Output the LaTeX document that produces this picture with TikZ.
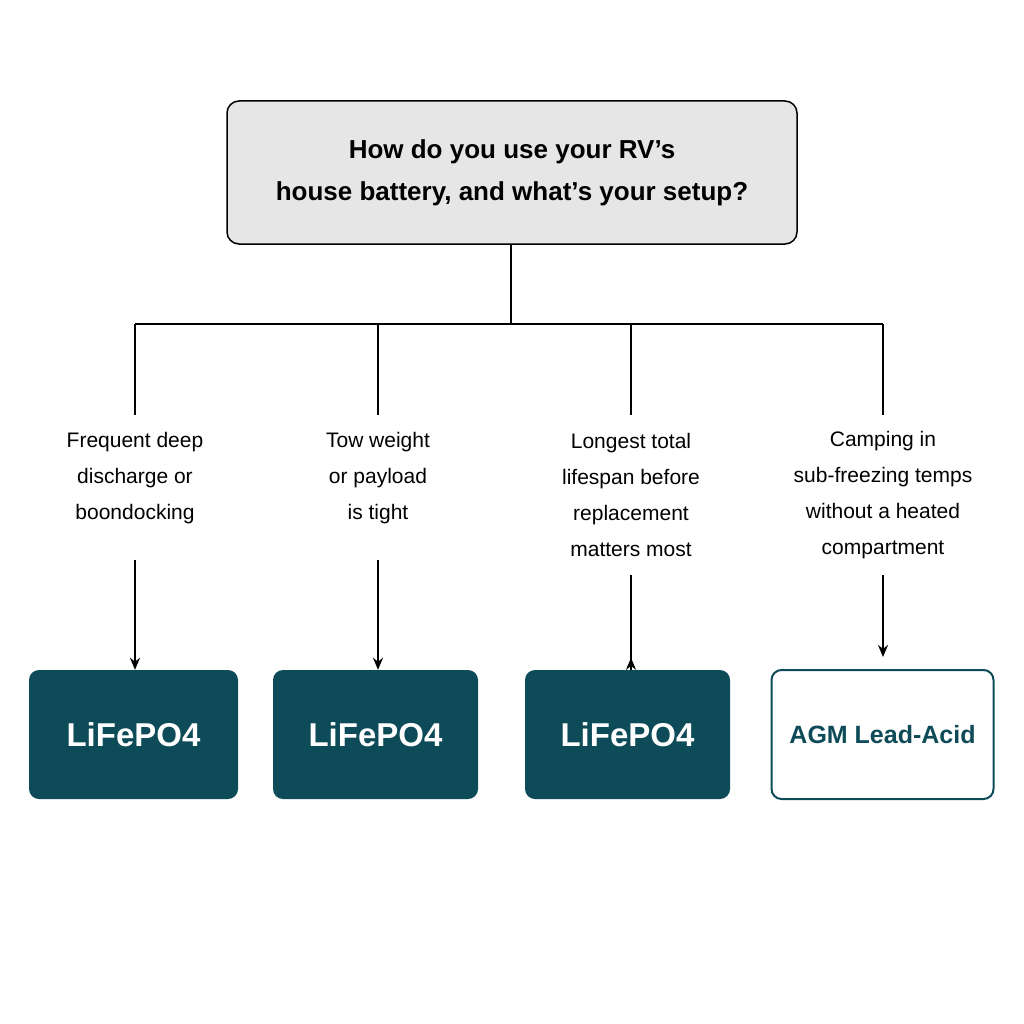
\documentclass[tikz,border=0pt]{standalone}
\usepackage{fontspec}
\setmainfont{Liberation Sans}
\usetikzlibrary{arrows.meta}
\definecolor{teal1}{HTML}{0E4B58}
\definecolor{gray1}{HTML}{E6E6E6}
\begin{document}
\begin{tikzpicture}[x=1pt,y=-1pt,
  lbl/.style={align=center,font=\fontsize{21}{36}\selectfont,inner sep=2pt},
  res/.style={rounded corners=10pt,fill=teal1,text=white,font=\bfseries\fontsize{33}{38}\selectfont,minimum height=129pt,inner sep=0pt},
  line/.style={line width=1.8pt,black},
  arr/.style={line/.style,line width=1.8pt,-{Stealth[length=11pt,width=9pt]}}]
\useasboundingbox[fill=white] (0,0) rectangle (1024,1024);
\node[draw=black,line width=1.5pt,fill=gray1,rounded corners=12pt,minimum width=570pt,minimum height=143pt,align=center,font=\bfseries\fontsize{26}{42}\selectfont] (q) at (512,172.5) {How do you use your RV's\\house battery, and what's your setup?};
\coordinate (j) at (511,324);
\coordinate (j1) at (135,324);\coordinate (j2) at (378,324);\coordinate (j3) at (631,324);\coordinate (j4) at (883,324);
\node[lbl] (l1) at (135,478) {Frequent deep\\discharge or\\boondocking};
\node[lbl] (l2) at (378,478) {Tow weight\\or payload\\is tight};
\node[lbl] (l3) at (631,495) {Longest total\\lifespan before\\replacement\\matters most};
\node[lbl] (l4) at (883,495) {Camping in\\sub-freezing temps\\without a heated\\compartment};
\node[res,minimum width=209pt] (r1) at (133.5,734.5) {LiFePO4};
\node[res,minimum width=205pt] (r2) at (375.5,734.5) {LiFePO4};
\node[res,minimum width=205pt] (r3) at (627.5,734.5) {LiFePO4};
\node[res,fill=white,draw=teal1,line width=2pt,text=teal1,minimum width=222pt,font=\bfseries\fontsize{25}{30}\selectfont] (r4) at (882.5,734.5) {AGM Lead-Acid};
\draw[line width=2pt] (q.south -| j) -- (j);
\draw[line width=2pt] (j1) -- (j4);
\foreach \i in {1,2,3,4}{
  \draw[line width=2pt] (j\i) -- (j\i |- 0,415);
}
\draw[line width=2pt,-{Stealth[length=12pt,width=10pt]}] (135,560) -- (r1.north -| 135,0);
\draw[line width=2pt,-{Stealth[length=12pt,width=10pt]}] (378,560) -- (r2.north -| 378,0);
\draw[line width=2pt,-{Stealth[length=12pt,width=10pt]}] (631,575) -- (r3.north -| 631,0) ++(0,-12);
\draw[line width=2pt,-{Stealth[length=12pt,width=10pt]}] (883,575) -- (883,657);
\end{tikzpicture}
\end{document}
